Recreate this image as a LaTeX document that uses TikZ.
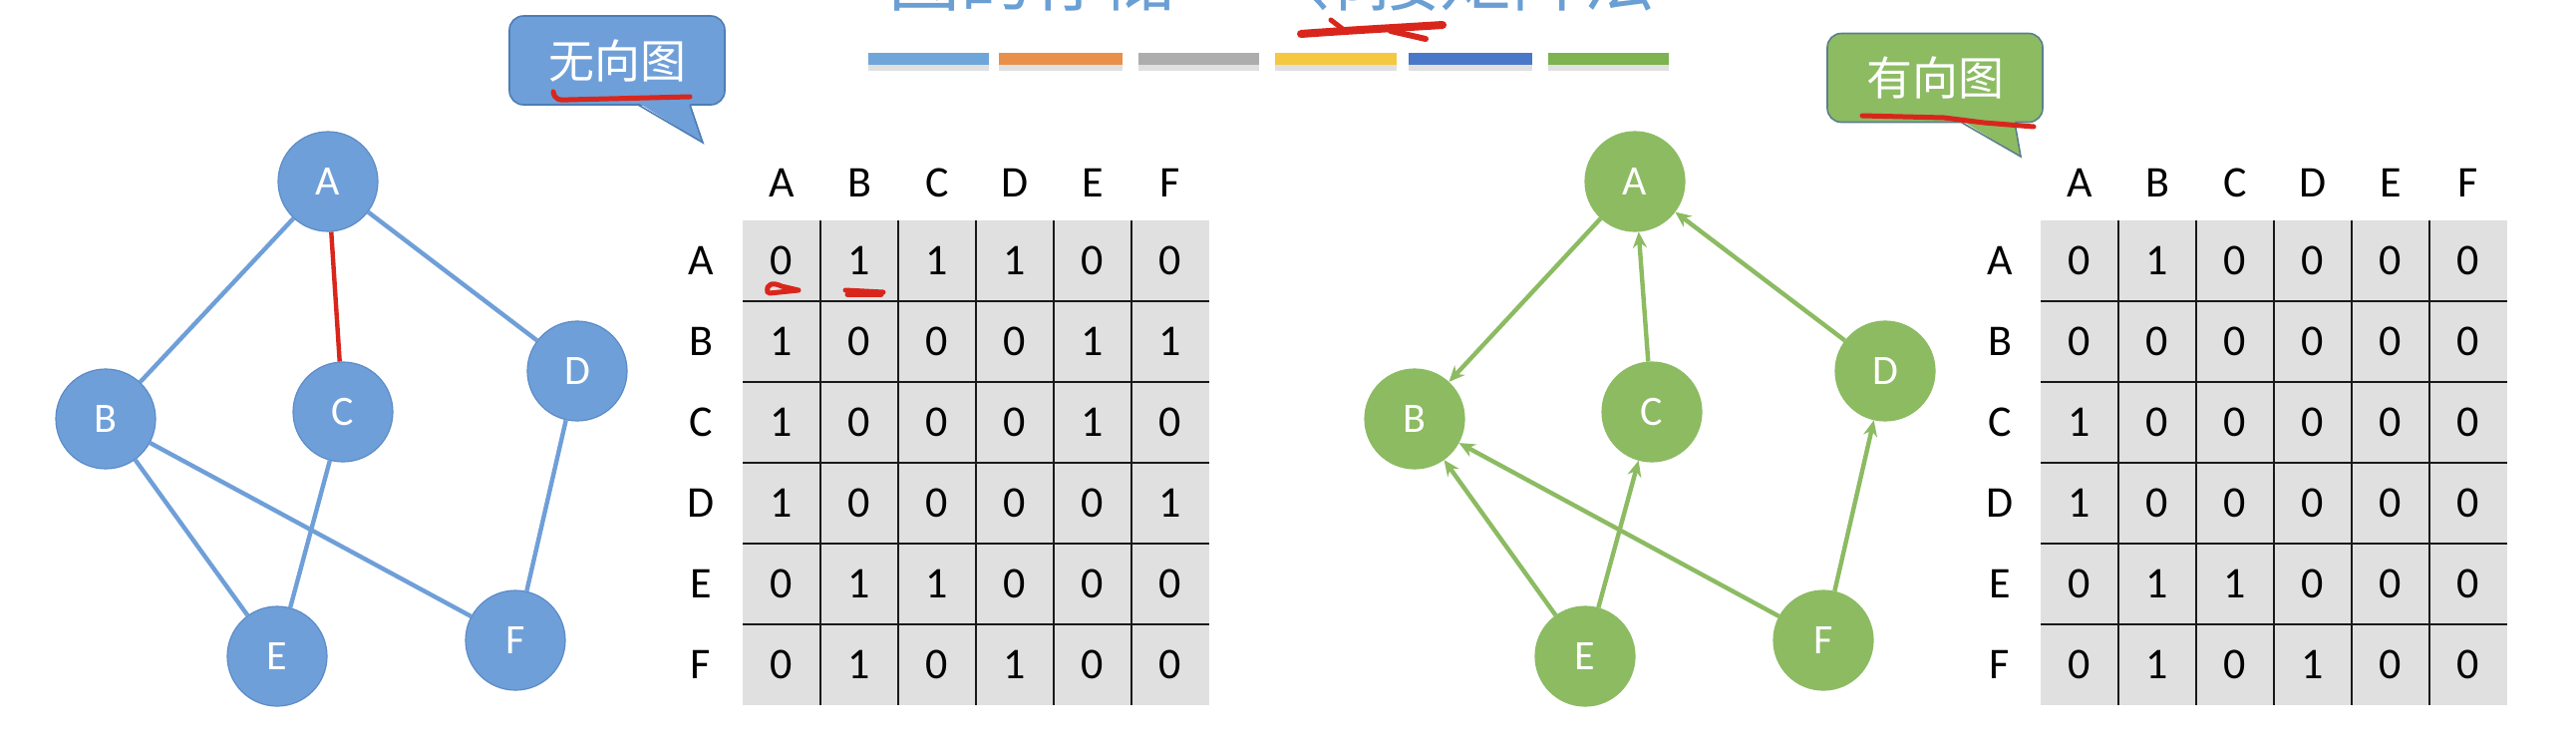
\documentclass[tikz,border=0pt]{standalone}
\usepackage{fontspec}
\setmainfont{Carlito}
\newfontfamily\cjk{Noto Sans CJK SC}
\usetikzlibrary{arrows.meta}
\definecolor{nblue}{HTML}{6F9FD8}
\definecolor{nblueb}{HTML}{5C8CC8}
\definecolor{ngreen}{HTML}{8CBB62}
\definecolor{cblueb}{HTML}{4D7DB5}
\definecolor{cgreenb}{HTML}{5B7F8C}
\definecolor{tblue}{HTML}{6A9FD4}
\definecolor{cellgray}{HTML}{E0E0E0}
\definecolor{redmark}{HTML}{D9261C}
\definecolor{barA}{HTML}{6FA6DA}
\definecolor{barB}{HTML}{E8904A}
\definecolor{barC}{HTML}{ADADAD}
\definecolor{barD}{HTML}{F5C842}
\definecolor{barE}{HTML}{4A78C8}
\definecolor{barF}{HTML}{7DB350}
\begin{document}
\begin{tikzpicture}[x=0.5pt,y=-0.5pt,
  bnode/.style={circle, fill=nblue, draw=nblueb, line width=0.6pt, minimum size=50pt, inner sep=0pt,
    text=white, font=\fontsize{21pt}{21pt}\selectfont},
  gnode/.style={circle, fill=ngreen, draw=ngreen, line width=0.6pt, minimum size=50pt, inner sep=0pt,
    text=white, font=\fontsize{21pt}{21pt}\selectfont},
  bedge/.style={draw=nblue, line width=2.2pt},
  gedge/.style={draw=ngreen, line width=2.2pt, -{Stealth[length=8pt,width=7pt]}},
  redge/.style={draw=redmark, line width=2.2pt},
  mtext/.style={font=\fontsize{22pt}{22pt}\selectfont, text=black, inner sep=0pt},
  gridline/.style={draw=black!90, line width=1.4pt},
  callbox/.style={rounded corners=7pt, line width=0.8pt, minimum width=108pt, minimum height=44.5pt,
    text=white, font=\cjk\fontsize{23pt}{23pt}\selectfont, inner sep=0pt},
  redpen/.style={draw=redmark, line width=2.5pt, line cap=round, line join=round},
  bar/.style={inner sep=0pt, minimum height=6pt, minimum width=61pt}
]
\useasboundingbox (0,0) rectangle (2584,756);
\fill[white] (0,0) rectangle (2584,756);

% title (cut off at top, as in the reference)
\node[anchor=base west, inner sep=0pt, text=tblue, font=\cjk\fontsize{36pt}{36pt}\selectfont] (title) at (891,5) {图的存储——邻接矩阵法};
\draw[redpen, line width=4pt] (1305,34) .. controls (1360,30) and (1400,28) .. (1447,25);
\draw[redpen, line width=2.5pt] (1335,20) -- (1348,30);
\draw[redpen, line width=3pt] (1395,31) -- (1430,39);

% colour bars
\foreach \xa/\xb/\col [count=\i] in {871/992/barA,1002/1126/barB,1142/1263/barC,1279/1401/barD,1413/1537/barE,1553/1674/barF}{
  \fill[black!12] (\xa,65) rectangle (\xb,71);
  \node[bar, fill=\col, minimum width={(\xb-\xa)*0.5pt}] (bar\i) at ({(\xa+\xb)/2},59) {};
}

% ===== left: undirected graph =====
\node[bnode] (LA) at (329,182) {A};
\node[bnode] (LB) at (106,420) {B};
\node[bnode] (LC) at (344,413) {C};
\node[bnode] (LD) at (579,372) {D};
\node[bnode] (LE) at (278,658) {E};
\node[bnode] (LF) at (517,642) {F};
\draw[bedge] (LA) -- (LB);
\draw[bedge] (LA) -- (LD);
\draw[bedge] (LB) -- (LE);
\draw[bedge] (LB) -- (LF);
\draw[bedge] (LC) -- (LE);
\draw[bedge] (LD) -- (LF);
\draw[redge] (LA) -- (LC);

% left callout
\node[callbox, fill=nblue, draw=cblueb] (CL) at (619,60.5) {无向图};
\fill[nblue] (640,103) -- (705,143) -- (692,103) -- cycle;
\draw[cblueb, line width=0.8pt, line join=miter] (640,105) -- (705,143) -- (692,105);
\draw[redpen] (555,92) .. controls (556,99) and (560,101) .. (570,100) -- (692,97);

% left matrix
\fill[cellgray] (745,221) rectangle (1213,707);
\foreach \l [count=\i] in {A,B,C,D,E,F}{
  \node[mtext] (LH\i) at ({745+78*(\i-0.5)},183) {\l};
  \node[mtext] (LR\i) at (703,{221+81*(\i-0.5)}) {\l};
}
\foreach \row [count=\r] in {{0,1,1,1,0,0},{1,0,0,0,1,1},{1,0,0,0,1,0},{1,0,0,0,0,1},{0,1,1,0,0,0},{0,1,0,1,0,0}}{
  \foreach \v [count=\c] in \row {
    \node[mtext] (L-\r-\c) at ({745+78*(\c-0.5)},{221+81*(\r-0.5)}) {\v};
  }
}
\foreach \k in {1,...,5}{
  \draw[gridline] ({745+78*\k},221) -- ({745+78*\k},707);
  \draw[gridline] (745,{221+81*\k}) -- (1213,{221+81*\k});
}
\draw[redpen] (770,293) .. controls (768,284) and (776,283) .. (784,287) -- (801,291) -- (772,294);
\draw[redpen] (848,291) -- (886,293);
\draw[redpen] (850,295) -- (884,295);

% ===== right: directed graph =====
\node[gnode] (RA) at (1640,182) {A};
\node[gnode] (RB) at (1419,420) {B};
\node[gnode] (RC) at (1657,413) {C};
\node[gnode] (RD) at (1891,372) {D};
\node[gnode] (RE) at (1590,658) {E};
\node[gnode] (RF) at (1829,642) {F};
\draw[gedge] (RA) -- (RB);
\draw[gedge] (RC) -- (RA);
\draw[gedge] (RD) -- (RA);
\draw[gedge] (RE) -- (RB);
\draw[gedge] (RE) -- (RC);
\draw[gedge] (RF) -- (RB);
\draw[gedge] (RF) -- (RD);

% right callout
\node[callbox, fill=ngreen, draw=cgreenb] (CR) at (1941,78) {有向图};
\fill[ngreen] (1968,121) -- (2027,157) -- (2021,121) -- cycle;
\draw[cgreenb, line width=0.8pt, line join=miter] (1968,123) -- (2027,157) -- (2021,123);
\draw[redpen] (1868,116) -- (1950,118) -- (1990,123) -- (2040,127);

% right matrix
\fill[cellgray] (2047,221) rectangle (2515,707);
\foreach \l [count=\i] in {A,B,C,D,E,F}{
  \node[mtext] (RH\i) at ({2047+78*(\i-0.5)},183) {\l};
  \node[mtext] (RR\i) at (2006,{221+81*(\i-0.5)}) {\l};
}
\foreach \row [count=\r] in {{0,1,0,0,0,0},{0,0,0,0,0,0},{1,0,0,0,0,0},{1,0,0,0,0,0},{0,1,1,0,0,0},{0,1,0,1,0,0}}{
  \foreach \v [count=\c] in \row {
    \node[mtext] (R-\r-\c) at ({2047+78*(\c-0.5)},{221+81*(\r-0.5)}) {\v};
  }
}
\foreach \k in {1,...,5}{
  \draw[gridline] ({2047+78*\k},221) -- ({2047+78*\k},707);
  \draw[gridline] (2047,{221+81*\k}) -- (2515,{221+81*\k});
}
\end{tikzpicture}
\end{document}
